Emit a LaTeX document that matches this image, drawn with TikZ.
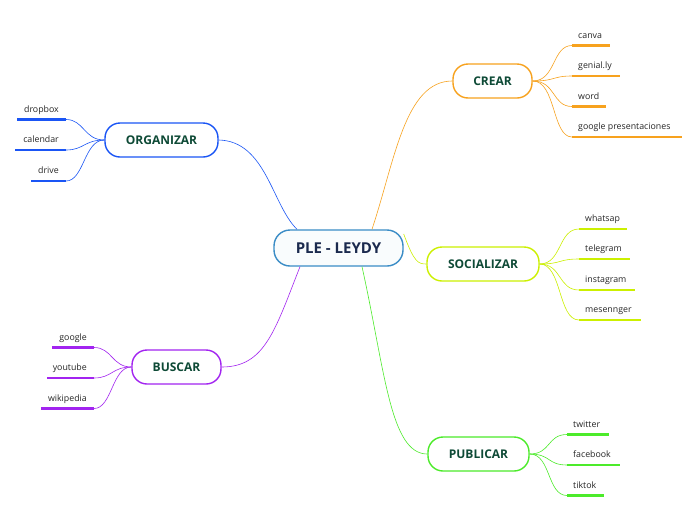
\documentclass[tikz,border=0pt]{standalone}
\usepackage{fontspec}
\setmainfont{Open Sans}
\definecolor{cOrange}{HTML}{F7A21E}
\definecolor{cBlue}{HTML}{1A55F5}
\definecolor{cLime}{HTML}{CCF000}
\definecolor{cPurple}{HTML}{A224F0}
\definecolor{cGreen}{HTML}{4CEB2A}
\definecolor{cCenter}{HTML}{3A8CC6}
\definecolor{cNavy}{HTML}{1B2A4E}
\definecolor{cText}{HTML}{0E4A36}
\begin{document}
\begin{tikzpicture}[x=1pt,y=-1pt,
  mainbox/.style={draw, line width=1.4pt, rounded corners=15pt, fill=white, minimum height=34pt,
     font=\bfseries\fontsize{12}{14}\selectfont, text=cText, inner sep=0pt},
  leaf/.style={font=\fontsize{8.8}{10}\selectfont, text=black!85, inner sep=0pt},
  conn/.style={line width=0.6pt},
  uline/.style={line width=2.2pt}]
\useasboundingbox[fill=white] (0,0) rectangle (696,520);

% center
\node[mainbox, draw=cCenter, fill=cCenter!3, minimum width=129pt, minimum height=36pt,
  rounded corners=16pt, font=\bfseries\fontsize{15}{17}\selectfont, text=cNavy] (c) at (338.5,248) {PLE - LEYDY};

% main nodes
\node[mainbox, draw=cOrange, minimum width=79pt] (crear) at (492.5,81) {CREAR};
\node[mainbox, draw=cBlue, minimum width=113pt] (org) at (161.5,140) {ORGANIZAR};
\node[mainbox, draw=cLime, minimum width=112pt] (soc) at (483,264) {SOCIALIZAR};
\node[mainbox, draw=cPurple, minimum width=89pt] (bus) at (176.5,367) {BUSCAR};
\node[mainbox, draw=cGreen, minimum width=101pt] (pub) at (478.5,454) {PUBLICAR};

% main connectors
\draw[conn, cBlue] ([xshift=-41.5pt]c.north) .. controls (272,205) and (266,141) .. (org.east);
\draw[conn, cOrange] ([xshift=33.5pt]c.north) .. controls (395,160) and (405,81) .. (crear.west);
\draw[conn, cLime] ([yshift=14pt]c.east) .. controls (414,262) and (418,264) .. (soc.west);
\draw[conn, cPurple] ([xshift=-38.5pt]c.south) .. controls (275,330) and (265,367) .. (bus.east);
\draw[conn, cGreen] ([xshift=23.5pt]c.south) .. controls (385,370) and (390,454) .. (pub.west);

% CREAR leaves
\foreach \n/\y/\xe/\t in {cr1/45.5/610/canva, cr2/76/620/genial.ly, cr3/106.5/606/word, cr4/137/682/google presentaciones}{
  \coordinate (\n a) at (572,\y); \coordinate (\n b) at (\xe,\y);
  \draw[uline, cOrange] (\n a) -- (\n b);
  \node[leaf, anchor=base west] (\n) at (578,\y-7.5) {\t};
  \draw[conn, cOrange] (crear.east) .. controls (556,81) and (552,\y) .. (\n a);
}

% SOCIALIZAR leaves
\foreach \n/\y/\xe/\t in {so1/229/627/whatsap, so2/259/630/telegram, so3/290/635/instagram, so4/320/641/mesennger}{
  \coordinate (\n a) at (579,\y); \coordinate (\n b) at (\xe,\y);
  \draw[uline, cLime] (\n a) -- (\n b);
  \node[leaf, anchor=base west] (\n) at (585,\y-7.5) {\t};
  \draw[conn, cLime] (soc.east) .. controls (562,264) and (558,\y) .. (\n a);
}

% PUBLICAR leaves
\foreach \n/\y/\xe/\t in {pu1/434.5/609/twitter, pu2/465/620/facebook, pu3/495.5/604/tiktok}{
  \coordinate (\n a) at (567,\y); \coordinate (\n b) at (\xe,\y);
  \draw[uline, cGreen] (\n a) -- (\n b);
  \node[leaf, anchor=base west] (\n) at (573,\y-7.5) {\t};
  \draw[conn, cGreen] (pub.east) .. controls (551,454) and (547,\y) .. (\n a);
}

% ORGANIZAR leaves
\foreach \n/\y/\xs/\t in {or1/119.5/17/dropbox, or2/150/15/calendar, or3/181/31/drive}{
  \coordinate (\n a) at (\xs,\y); \coordinate (\n b) at (66,\y);
  \draw[uline, cBlue] (\n a) -- (\n b);
  \node[leaf, anchor=base east] (\n) at (59,\y-7.5) {\t};
  \draw[conn, cBlue] (\n b) .. controls (84,\y) and (84,140) .. (org.west);
}

% BUSCAR leaves
\foreach \n/\y/\xs/\t in {bu1/347.5/52/google, bu2/378/47/youtube, bu3/408.5/41/wikipedia}{
  \coordinate (\n a) at (\xs,\y); \coordinate (\n b) at (94,\y);
  \draw[uline, cPurple] (\n a) -- (\n b);
  \node[leaf, anchor=base east] (\n) at (87,\y-7.5) {\t};
  \draw[conn, cPurple] (\n b) .. controls (112,\y) and (112,367) .. (bus.west);
}
\end{tikzpicture}
\end{document}
